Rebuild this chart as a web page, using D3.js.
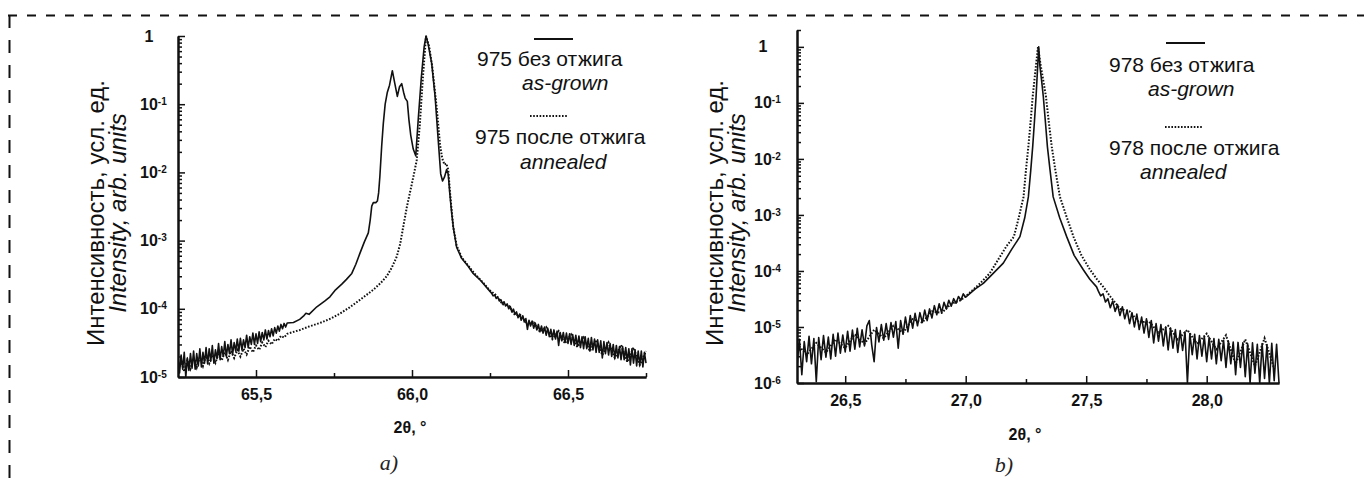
<!DOCTYPE html>
<html>
<head>
<meta charset="utf-8">
<script src="https://cdn.jsdelivr.net/npm/d3@7"></script>
<style>
  body { margin: 0; background: #fff; }
  svg { display: block; font-family: "Liberation Sans", Arial, sans-serif; }
</style>
</head>
<body>
<div class="chart"></div>
<script>
var panelLetters = ['a)', 'b)'];

// ---------- panel a: sample 975 ----------
var aThetaTicks = [65.5, 66.0, 66.5];
var aThetaMinor = [65.75, 66.25, 66.75];
var aExponents = [0, -1, -2, -3, -4, -5];
var aLegend = ['975 без отжига', 'as-grown', '975 после отжига', 'annealed'];

// as-grown, noisy left tail: 65.250 .. 65.600, every 0.005
var aGrownLeft = [1.9e-5, 1.15e-5, 2.1e-5, 1.3e-5, 2.3e-5, 1.0e-5, 1.9e-5, 1.25e-5, 2.2e-5, 1.35e-5,
  2.4e-5, 1.3e-5, 2.2e-5, 1.45e-5, 2.6e-5, 1.4e-5, 2.3e-5, 1.6e-5, 2.7e-5, 1.55e-5,
  2.6e-5, 1.7e-5, 2.9e-5, 1.6e-5, 2.5e-5, 1.85e-5, 3.1e-5, 1.8e-5, 2.8e-5, 2.0e-5,
  3.3e-5, 2.0e-5, 3.0e-5, 2.2e-5, 3.5e-5, 2.15e-5, 3.2e-5, 2.4e-5, 3.6e-5, 2.4e-5,
  3.7e-5, 2.5e-5, 3.5e-5, 2.7e-5, 4.1e-5, 2.7e-5, 3.9e-5, 3.0e-5, 4.4e-5, 3.0e-5,
  4.3e-5, 3.1e-5, 4.6e-5, 3.3e-5, 4.5e-5, 3.5e-5, 4.9e-5, 3.6e-5, 4.8e-5, 3.9e-5,
  5.1e-5, 4.0e-5, 5.3e-5, 4.4e-5, 5.6e-5, 4.7e-5, 5.9e-5, 5.1e-5, 6.1e-5, 5.4e-5,
  6.2e-5];
// as-grown, peak region [2theta, intensity]
var aGrownPeak = [[65.62, 6.3e-5], [65.64, 7.0e-5], [65.652, 7.8e-5], [65.66, 8.6e-5], [65.67, 8.3e-5],
  [65.695, 1.07e-4], [65.72, 1.3e-4], [65.737, 1.5e-4], [65.755, 1.9e-4], [65.775, 2.3e-4],
  [65.79, 2.7e-4], [65.807, 3.3e-4], [65.82, 4.5e-4], [65.833, 6.5e-4], [65.847, 9.5e-4],
  [65.86, 1.3e-3], [65.866, 2.0e-3], [65.871, 3.2e-3], [65.876, 3.6e-3], [65.884, 3.6e-3],
  [65.889, 3.8e-3], [65.893, 5.0e-3], [65.897, 8.7e-3], [65.903, 2.5e-2], [65.908, 5.2e-2],
  [65.914, 0.1], [65.921, 0.15], [65.928, 0.19], [65.937, 0.31], [65.945, 0.2],
  [65.953, 0.13], [65.96, 0.18], [65.967, 0.2], [65.973, 0.15], [65.978, 0.123],
  [65.985, 0.11], [65.99, 0.06], [65.996, 0.035], [66.004, 0.022], [66.012, 0.0175],
  [66.02, 0.06], [66.03, 0.25], [66.039, 0.7], [66.045, 1.0], [66.052, 0.75],
  [66.063, 0.4], [66.074, 0.13], [66.084, 0.03], [66.092, 0.0095], [66.098, 0.0075],
  [66.104, 0.0085], [66.111, 0.011], [66.116, 0.0095], [66.121, 0.005], [66.127, 2.6e-3],
  [66.133, 1.5e-3], [66.143, 8.0e-4], [66.159, 5.5e-4], [66.18, 4.2e-4], [66.196, 3.3e-4],
  [66.22, 2.6e-4], [66.25, 1.8e-4]];
// as-grown, noisy right tail: 66.255 .. 66.750, every 0.005
var aGrownRight = [1.7e-4, 1.55e-4, 1.6e-4, 1.42e-4, 1.48e-4, 1.3e-4, 1.36e-4, 1.18e-4, 1.27e-4, 1.1e-4,
  1.18e-4, 1.0e-4, 1.08e-4, 9.0e-5, 9.9e-5, 8.3e-5, 9.0e-5, 7.4e-5, 8.4e-5, 6.8e-5,
  7.9e-5, 6.4e-5, 7.2e-5, 5.0e-5, 6.8e-5, 5.6e-5, 6.6e-5, 5.2e-5, 6.2e-5, 4.9e-5,
  5.9e-5, 4.6e-5, 5.6e-5, 4.4e-5, 5.4e-5, 4.1e-5, 5.2e-5, 3.9e-5, 5.0e-5, 3.7e-5,
  4.9e-5, 3.6e-5, 4.7e-5, 2.9e-5, 4.5e-5, 3.4e-5, 4.5e-5, 3.2e-5, 4.4e-5, 3.1e-5,
  4.3e-5, 3.0e-5, 4.2e-5, 2.9e-5, 4.1e-5, 2.8e-5, 4.0e-5, 2.7e-5, 3.9e-5, 2.6e-5,
  3.9e-5, 2.6e-5, 3.7e-5, 2.4e-5, 3.8e-5, 2.5e-5, 3.6e-5, 2.3e-5, 3.5e-5, 2.3e-5,
  3.4e-5, 1.9e-5, 3.3e-5, 2.2e-5, 3.2e-5, 2.1e-5, 3.1e-5, 2.0e-5, 3.0e-5, 1.9e-5,
  2.9e-5, 1.9e-5, 2.8e-5, 1.8e-5, 2.8e-5, 1.8e-5, 2.7e-5, 1.7e-5, 2.6e-5, 1.5e-5,
  2.6e-5, 1.6e-5, 2.5e-5, 1.45e-5, 2.4e-5, 1.5e-5, 2.4e-5, 1.4e-5, 2.3e-5, 1.6e-5];

// annealed, left tail 65.25 .. 65.60, every 0.01
var aAnnLeft = [1.26e-5, 1.74e-5, 1.2e-5, 1.78e-5, 1.32e-5, 1.9e-5, 1.38e-5, 1.95e-5, 1.45e-5, 2.04e-5,
  1.58e-5, 2.09e-5, 1.62e-5, 2.19e-5, 1.74e-5, 2.29e-5, 1.78e-5, 2.4e-5, 1.9e-5, 2.5e-5,
  2.0e-5, 2.6e-5, 2.14e-5, 2.8e-5, 2.3e-5, 2.9e-5, 2.5e-5, 3.2e-5, 2.75e-5, 3.4e-5,
  3.0e-5, 3.6e-5, 3.4e-5, 4.0e-5, 3.8e-5, 4.3e-5];
var aAnnPeak = [[65.641, 4.9e-5], [65.67, 5.5e-5], [65.705, 6.2e-5], [65.74, 7.2e-5], [65.769, 8.5e-5],
  [65.8, 1.05e-4], [65.833, 1.35e-4], [65.876, 1.9e-4], [65.9, 2.4e-4], [65.919, 3.0e-4],
  [65.935, 4.0e-4], [65.951, 5.8e-4], [65.962, 8.9e-4], [65.972, 1.6e-3], [65.984, 3.2e-3],
  [65.994, 5.2e-3], [66.005, 8.9e-3], [66.015, 0.015], [66.025, 0.05], [66.035, 0.25],
  [66.045, 1.0], [66.055, 0.7], [66.065, 0.35], [66.079, 0.09], [66.09, 0.025],
  [66.097, 0.016], [66.104, 0.013], [66.11, 0.0135], [66.116, 0.011], [66.122, 0.005],
  [66.132, 1.6e-3], [66.143, 8.5e-4], [66.159, 5.7e-4], [66.18, 4.3e-4], [66.2, 3.3e-4],
  [66.225, 2.5e-4], [66.25, 1.85e-4]];
// annealed, right tail 66.27 .. 66.75, every 0.02
var aAnnRight = [1.58e-4, 1.17e-4, 1.12e-4, 8.1e-5, 8.1e-5, 5.9e-5, 6.3e-5, 4.6e-5, 5.4e-5, 3.6e-5,
  4.7e-5, 3.1e-5, 4.2e-5, 2.75e-5, 3.8e-5, 2.4e-5, 3.5e-5, 2.1e-5, 3.2e-5, 1.9e-5,
  2.95e-5, 1.66e-5, 2.7e-5, 1.5e-5, 2.4e-5];

// ---------- panel b: sample 978 ----------
var bThetaTicks = [26.5, 27.0, 27.5, 28.0];
var bThetaMinor = [26.75, 27.25, 27.75];
var bExponents = [0, -1, -2, -3, -4, -5, -6];
var bLegend = ['978 без отжига', 'as-grown', '978 после отжига', 'annealed'];

// as-grown, left tail 26.30 .. 27.00, every 0.01
var bGrownLeft = [2.0e-6, 6.0e-6, 1.4e-6, 5.5e-6, 2.4e-6, 6.8e-6, 2.2e-6, 6.2e-6, 1.05e-6, 6.5e-6,
  2.6e-6, 7.0e-6, 2.9e-6, 6.6e-6, 2.7e-6, 7.4e-6, 3.0e-6, 7.8e-6, 3.4e-6, 7.2e-6,
  3.6e-6, 8.4e-6, 3.7e-6, 8.8e-6, 4.0e-6, 9.5e-6, 4.4e-6, 8.9e-6, 4.6e-6, 1.05e-5,
  1.3e-5, 4.8e-6, 2.4e-6, 9.8e-6, 5.4e-6, 1.1e-5, 5.8e-6, 1.15e-5, 6.0e-6, 1.2e-5,
  6.6e-6, 1.25e-5, 4.2e-6, 1.3e-5, 7.4e-6, 1.5e-5, 8.2e-6, 1.6e-5, 9.5e-6, 1.75e-5,
  1.05e-5, 1.8e-5, 1.2e-5, 2.0e-5, 1.3e-5, 2.1e-5, 1.45e-5, 2.4e-5, 1.65e-5, 2.6e-5,
  1.8e-5, 2.75e-5, 2.1e-5, 3.0e-5, 2.35e-5, 3.2e-5, 2.65e-5, 3.5e-5, 3.0e-5, 3.9e-5,
  3.4e-5];
var bGrownPeak = [[27.04, 4.8e-5], [27.073, 6.0e-5], [27.11, 8.7e-5], [27.156, 1.38e-4], [27.19, 2.4e-4],
  [27.225, 4.1e-4], [27.245, 8.9e-4], [27.26, 2.1e-3], [27.27, 6.3e-3], [27.278, 0.0166],
  [27.285, 0.045], [27.292, 0.13], [27.298, 0.4], [27.303, 1.0], [27.308, 0.45],
  [27.315, 0.25], [27.322, 0.13], [27.33, 0.05], [27.339, 0.0166], [27.35, 6.3e-3],
  [27.363, 2.1e-3], [27.39, 8.9e-4], [27.419, 4.1e-4], [27.45, 1.9e-4], [27.488, 1.05e-4],
  [27.515, 7.1e-5], [27.543, 5.2e-5]];
// as-grown, right tail 27.55 .. 28.30, every 0.01
var bGrownRight = [4.4e-5, 3.6e-5, 3.9e-5, 2.8e-5, 3.2e-5, 2.2e-5, 2.9e-5, 1.9e-5, 2.5e-5, 1.6e-5,
  2.3e-5, 1.4e-5, 2.0e-5, 1.15e-5, 1.8e-5, 1.0e-5, 1.7e-5, 9.0e-6, 1.5e-5, 7.8e-6,
  1.4e-5, 6.5e-6, 1.3e-5, 5.2e-6, 1.15e-5, 5.6e-6, 1.1e-5, 4.6e-6, 1.0e-5, 3.9e-6,
  9.6e-6, 4.2e-6, 9.0e-6, 3.5e-6, 8.6e-6, 3.8e-6, 8.2e-6, 1.0e-6, 7.6e-6, 3.2e-6,
  7.4e-6, 2.7e-6, 7.0e-6, 3.0e-6, 6.8e-6, 2.4e-6, 6.5e-6, 2.7e-6, 6.2e-6, 2.2e-6,
  6.0e-6, 2.5e-6, 5.8e-6, 1.9e-6, 5.6e-6, 2.2e-6, 5.4e-6, 1.4e-6, 5.3e-6, 1.9e-6,
  5.2e-6, 1.3e-6, 5.0e-6, 1.0e-6, 5.2e-6, 1.5e-6, 4.9e-6, 1.0e-6, 5.0e-6, 1.2e-6,
  4.8e-6, 1.0e-6, 5.1e-6, 1.1e-6, 4.9e-6, 1.0e-6];

// annealed, left tail 26.30 .. 26.98, every 0.04
var bAnnLeft = [5.0e-6, 3.2e-6, 5.2e-6, 3.5e-6, 6.0e-6, 4.2e-6, 7.4e-6, 5.0e-6, 8.9e-6, 6.3e-6,
  1.05e-5, 7.9e-6, 1.38e-5, 1.2e-5, 1.9e-5, 1.78e-5, 2.6e-5, 3.0e-5];
var bAnnPeak = [[27.02, 4.2e-5], [27.06, 6.0e-5], [27.1, 9.1e-5], [27.135, 1.6e-4], [27.17, 2.8e-4],
  [27.2, 4.1e-4], [27.22, 8.9e-4], [27.24, 2.1e-3], [27.25, 6.3e-3], [27.26, 0.0166],
  [27.27, 0.05], [27.278, 0.13], [27.29, 0.4], [27.3, 1.0], [27.31, 0.5],
  [27.322, 0.25], [27.333, 0.13], [27.345, 0.045], [27.357, 0.0166], [27.372, 6.3e-3],
  [27.391, 2.1e-3], [27.42, 8.9e-4], [27.447, 4.1e-4], [27.48, 1.9e-4], [27.516, 1.05e-4],
  [27.545, 7.1e-5], [27.571, 5.2e-5]];
// annealed, right tail 27.60 .. 28.28, every 0.04
var bAnnRight = [3.5e-5, 2.1e-5, 1.9e-5, 1.2e-5, 1.26e-5, 7.9e-6, 1.05e-5, 6.0e-6, 8.9e-6, 5.0e-6,
  7.6e-6, 4.0e-6, 7.1e-6, 2.2e-6, 6.0e-6, 2.0e-6, 6.3e-6, 1.8e-6];

var ink = '#111';

//attach 2theta values to the evenly sampled tails
function grid(start, step, values) {
  return values.map(function (v, i) {
    return [+(start + i * step).toFixed(3), v];
  });
}

var panels = [{
  id: 'a', letter: panelLetters[0], left: 178, right: 646, top: 36, bottom: 377,
  xDomain: [65.25, 66.75], yDomain: [1e-5, 1],
  ticks: aThetaTicks, minor: aThetaMinor, exponents: aExponents, legend: aLegend,
  grown: grid(65.25, 0.005, aGrownLeft).concat(aGrownPeak, grid(66.255, 0.005, aGrownRight)),
  annealed: grid(65.25, 0.01, aAnnLeft).concat(aAnnPeak, grid(66.27, 0.02, aAnnRight)),
  labX: -38, titleX: 410, titleY: 433, letterX: 389, letterY: 470,
  legPos: {
    line: [534, 573, 39], dots: [530, 567, 116],
    texts: [[477, 66], [522, 90], [475, 144], [520, 168.5]]
  }
}, {
  id: 'b', letter: panelLetters[1], left: 797, right: 1279, top: 30, bottom: 383,
  xDomain: [26.3, 28.3], yDomain: [1e-6, 2],
  ticks: bThetaTicks, minor: bThetaMinor, exponents: bExponents, legend: bLegend,
  grown: grid(26.3, 0.01, bGrownLeft).concat(bGrownPeak, grid(27.55, 0.01, bGrownRight)),
  annealed: grid(26.3, 0.04, bAnnLeft).concat(bAnnPeak, grid(27.6, 0.04, bAnnRight)),
  labX: -43, titleX: 1025, titleY: 440, letterX: 1004, letterY: 472,
  legPos: {
    line: [1166, 1205, 43], dots: [1165, 1203, 127],
    texts: [[1109, 72], [1148, 96], [1109, 155], [1140, 179]]
  }
}];

var svg = d3.select('.chart').append('svg').attr('width', 1364).attr('height', 485);

//dashed frame round the figure (only top and left edges are inside the crop)
svg.append('path').attr('d', 'M8,15.5H1364').attr('fill', 'none')
  .attr('stroke', ink).attr('stroke-width', 2).attr('stroke-dasharray', '9,10');
svg.append('path').attr('d', 'M9.5,15V485').attr('fill', 'none')
  .attr('stroke', ink).attr('stroke-width', 2).attr('stroke-dasharray', '13,12');

panels.forEach(function (p) {
  var x = d3.scaleLinear().domain(p.xDomain).range([p.left, p.right]);
  var y = d3.scaleLog().domain(p.yDomain).range([p.bottom, p.top]);
  var g = svg.append('g');

  svg.append('clipPath').attr('id', 'clip-' + p.id).append('rect')
    .attr('x', p.left).attr('y', p.top - 3)
    .attr('width', p.right - p.left + 1).attr('height', p.bottom - p.top + 3);

  var line = d3.line().x(function (d) { return x(d[0]); }).y(function (d) { return y(d[1]); });

  //annealed first so the solid curve sits on top
  g.append('path').datum(p.annealed).attr('d', line)
    .attr('fill', 'none').attr('stroke', ink).attr('stroke-width', 2)
    .attr('stroke-dasharray', '1.6,1.6').attr('clip-path', 'url(#clip-' + p.id + ')');
  g.append('path').datum(p.grown).attr('d', line)
    .attr('fill', 'none').attr('stroke', ink).attr('stroke-width', 1.6)
    .attr('stroke-linejoin', 'round').attr('clip-path', 'url(#clip-' + p.id + ')');

  //x axis, ticks pointing inward
  var xMinor = d3.axisBottom(x).tickValues(p.minor).tickSize(-4).tickSizeOuter(0).tickFormat('');
  var xMajor = d3.axisBottom(x).tickValues(p.ticks).tickSize(-7).tickSizeOuter(0).tickPadding(12)
    .tickFormat(function (d) { return d3.format('.1f')(d).replace('.', ','); });
  g.append('g').attr('transform', 'translate(0,' + p.bottom + ')').call(xMinor);
  g.append('g').attr('transform', 'translate(0,' + p.bottom + ')').call(xMajor)
    .attr('font-size', 16).attr('font-family', null).attr('font-weight', 'bold');

  //y axis, log decades plus minor ticks
  var isDecade = function (t) { return Math.abs(Math.log10(t) - Math.round(Math.log10(t))) < 1e-9; };
  var decades = p.exponents.map(function (e) { return Math.pow(10, e); });
  var yMinor = d3.axisLeft(y).tickValues(y.ticks().filter(function (t) { return !isDecade(t); }))
    .tickSize(-4).tickSizeOuter(0).tickFormat('');
  var yMajor = d3.axisLeft(y).tickValues(decades).tickSize(-7).tickSizeOuter(0).tickFormat('');
  g.append('g').attr('transform', 'translate(' + p.left + ',0)').call(yMinor);
  g.append('g').attr('transform', 'translate(' + p.left + ',0)').call(yMajor);

  g.selectAll('.domain').attr('stroke', ink).attr('stroke-width', 2);
  g.selectAll('.tick line').attr('stroke', ink).attr('stroke-width', 1.5);
  g.selectAll('.tick text').attr('fill', ink);

  //decade labels as 10 with a raised exponent
  g.selectAll('.ylab').data(p.exponents).join('text').attr('class', 'ylab')
    .attr('y', function (e) { return y(Math.pow(10, e)); }).attr('dy', '0.35em')
    .attr('fill', ink).style('font-size', '16px').style('font-weight', 'bold')
    .each(function (e) {
      var t = d3.select(this);
      if (e === 0) {
        t.attr('x', p.left + p.labX + 9).attr('text-anchor', 'middle').text('1');
      } else {
        t.attr('x', p.left + p.labX);
        t.append('tspan').text('10');
        t.append('tspan').attr('dy', '-0.5em').style('font-size', '10px').text(e);
      }
    });

  //y title: two lines in one rotated text
  var yTitle = g.append('text')
    .attr('transform', 'translate(' + p.left + ',213) rotate(-90)')
    .attr('text-anchor', 'middle').attr('fill', ink).style('font-size', '24px');
  yTitle.append('tspan').attr('x', 0).attr('y', -74).text('Интенсивность, усл. ед.');
  yTitle.append('tspan').attr('x', 0).attr('y', -52).style('font-style', 'italic').text('Intensity, arb. units');

  g.append('text').attr('x', p.titleX).attr('y', p.titleY)
    .attr('text-anchor', 'middle').attr('fill', ink).style('font-size', '16px').style('font-weight', 'bold')
    .text('2θ, °');

  //panel letter, serif italic
  g.append('text').attr('x', p.letterX).attr('y', p.letterY)
    .attr('text-anchor', 'middle').attr('fill', '#222')
    .style('font-family', '"Liberation Serif", "Times New Roman", serif').style('font-size', '22px')
    .style('font-style', 'italic')
    .text(p.letter);

  //legend: sample line above each two-line caption
  var L = p.legPos;
  g.append('line').attr('x1', L.line[0]).attr('x2', L.line[1]).attr('y1', L.line[2]).attr('y2', L.line[2])
    .attr('stroke', ink).attr('stroke-width', 2);
  g.append('line').attr('x1', L.dots[0]).attr('x2', L.dots[1]).attr('y1', L.dots[2]).attr('y2', L.dots[2])
    .attr('stroke', ink).attr('stroke-width', 2).attr('stroke-dasharray', '1.6,1.6');
  L.texts.forEach(function (pos, i) {
    g.append('text').attr('x', pos[0]).attr('y', pos[1]).attr('fill', ink)
      .style('font-size', '21px').style('font-style', i % 2 ? 'italic' : 'normal')
      .text(p.legend[i]);
  });
});
</script>
</body>
</html>
